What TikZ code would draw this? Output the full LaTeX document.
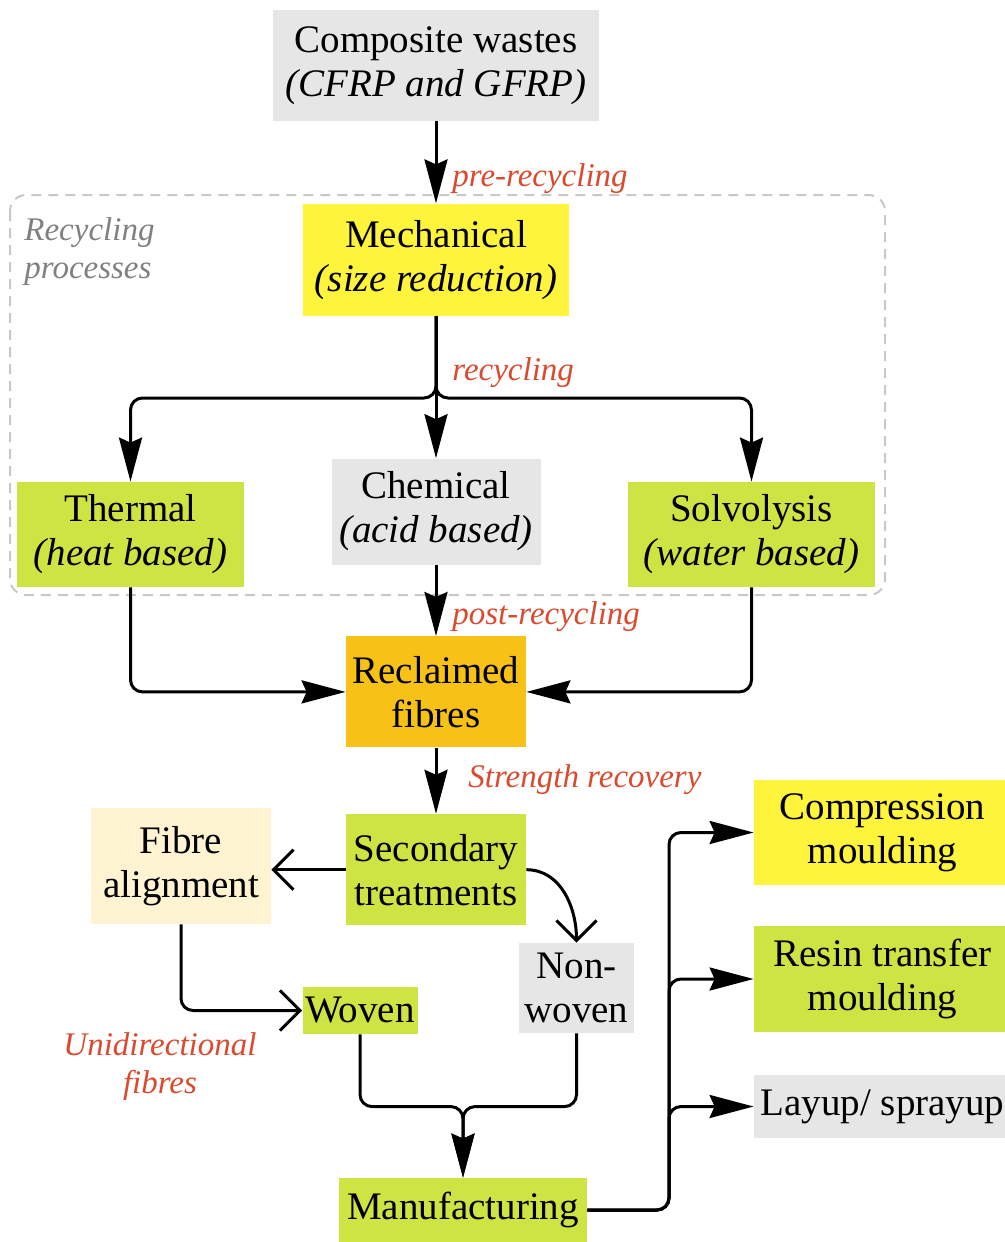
\documentclass[tikz,border=0pt]{standalone}
\usepackage{fontspec}
\setmainfont{Liberation Serif}
\usetikzlibrary{positioning, arrows.meta, calc}
\definecolor{boxgrey}{HTML}{E6E6E6}
\definecolor{boxyellow}{HTML}{FFF43C}
\definecolor{boxgreen}{HTML}{CDE443}
\definecolor{boxorange}{HTML}{F8C115}
\definecolor{boxcream}{HTML}{FFF3D2}
\definecolor{labelred}{HTML}{DA4A2E}
\definecolor{dashgrey}{HTML}{C8C8C8}
\definecolor{notegrey}{HTML}{808080}

\begin{document}
\begin{tikzpicture}[
    % one unit = one pixel of the sketch, y pointing down
    x=0.5pt, y=-0.5pt,
    box/.style={
        rectangle,
        draw=none,
        align=center,
        inner sep=0pt,
        text=black,
        font=\fontsize{19.5}{22}\selectfont
    },
    arrow/.style={
        -{Stealth[length=22pt, width=11.5pt, inset=2.5pt]},
        line width=1.5pt,
        rounded corners=6pt
    },
    openarrow/.style={
        -{Straight Barb[length=10pt, width=20pt]},
        line width=1.5pt,
        rounded corners=6pt
    },
    stage/.style={
        font=\fontsize{16.5}{19}\selectfont\itshape,
        text=labelred,
        inner sep=0pt
    },
    note/.style={
        stage,
        text=notegrey,
        align=left
    }
]
\useasboundingbox (0,0) rectangle (1005,1242);

% ==============================
% Recycling processes frame
% ==============================
\draw[dashgrey, line width=1pt, dash pattern=on 5pt off 3.5pt, rounded corners=8pt]
    (10,195) rectangle (885,595);
\node[note, anchor=west] (lproc) at (24,252) {Recycling\\processes};

% ==============================
% Main column
% ==============================
\node[box, fill=boxgrey, minimum width=163pt, minimum height=55.5pt] (waste) at (436,65.5) {
    Composite wastes\\
    \textit{(CFRP and GFRP)}
};

\node[box, fill=boxyellow, minimum width=133pt, minimum height=56pt, below=41pt of waste] (mech) {
    Mechanical\\
    \textit{(size reduction)}
};

\node[box, fill=boxgrey, minimum width=104.5pt, minimum height=53pt, below=71pt of mech] (chem) {
    Chemical\\
    \textit{(acid based)}
};

\node[box, fill=boxgreen, minimum width=113.5pt, minimum height=52.5pt] (therm) at (130.5,534.5) {
    Thermal\\
    \textit{(heat based)}
};

\node[box, fill=boxgreen, minimum width=123.5pt, minimum height=52.5pt] (solvo) at (751.5,534.5) {
    Solvolysis\\
    \textit{(water based)}
};

\node[box, fill=boxorange, minimum width=90pt, minimum height=55.5pt, below=35.5pt of chem] (reclaim) {
    Reclaimed\\ fibres
};

\node[box, fill=boxgreen, minimum width=90pt, minimum height=55.5pt, below=33pt of reclaim] (second) {
    Secondary\\ treatments
};

% ==============================
% Fibre forms
% ==============================
\node[box, fill=boxcream, minimum width=90pt, minimum height=58pt] (align) at (181,866) {
    Fibre\\ alignment
};
\node[box, fill=boxgreen, minimum width=57.5pt, minimum height=23.5pt] (woven) at (360,1010.5) {Woven};
\node[box, fill=boxgrey, minimum width=57.5pt, minimum height=45pt] (nonwoven) at (576.5,988) {Non-\\ woven};
\node[box, fill=boxgreen, minimum width=124pt, minimum height=32pt] (manuf) at (463,1210) {Manufacturing};

% ==============================
% Manufacturing routes
% ==============================
\node[box, fill=boxyellow, minimum width=128.5pt, minimum height=52.5pt] (compress) at (882.5,832.5) {
    Compression\\ moulding
};
\node[box, fill=boxgreen, minimum width=128.5pt, minimum height=53pt] (resin) at (882.5,979) {
    Resin transfer\\ moulding
};
\node[box, fill=boxgrey, minimum width=128.5pt, minimum height=31.5pt] (layup) at (882.5,1106.5) {Layup/ sprayup};

% ==============================
% Stage labels
% ==============================
\node[stage, anchor=west] (lpre) at (452,179) {pre-recycling};
\node[stage, anchor=west] (lrec) at (452,373) {recycling};
\node[stage, anchor=west] (lpost) at (452,617) {post-recycling};
\node[stage, anchor=west] (lstrength) at (468,780) {Strength recovery};
\node[stage, align=center] (luni) at (160,1067) {Unidirectional\\ fibres};

% ==============================
% Arrows
% ==============================
\coordinate (split) at (436,398);
\coordinate (join) at ($(manuf.north)+(0,-71)$);
\coordinate (bus) at (669,1210);

\draw[arrow] (waste) -- (mech);
\draw[arrow] (mech) -- (chem);
\draw[arrow] (mech.south) -- (split) -| (therm.north);
\draw[arrow] (mech.south) -- (split) -| (solvo.north);

\draw[arrow] (therm.south) |- (reclaim.west);
\draw[arrow] (solvo.south) |- (reclaim.east);
\draw[arrow] (chem) -- (reclaim);
\draw[arrow] (reclaim) -- (second);

\draw[openarrow] (second.west) -- (second.west -| align.east);
\draw[openarrow] (second.east) to[out=0, in=90] (nonwoven.north);
\draw[openarrow] (align.south) |- (woven.west);

\draw[arrow] (woven.south) |- (join) -- (manuf.north);
\draw[arrow] (nonwoven.south) |- (join) -- (manuf.north);

\draw[arrow] (manuf.east) -- (bus) |- (compress.west);
\draw[arrow] (manuf.east) -- (bus) |- (resin.west);
\draw[arrow] (manuf.east) -- (bus) |- (layup.west);

\end{tikzpicture}
\end{document}
